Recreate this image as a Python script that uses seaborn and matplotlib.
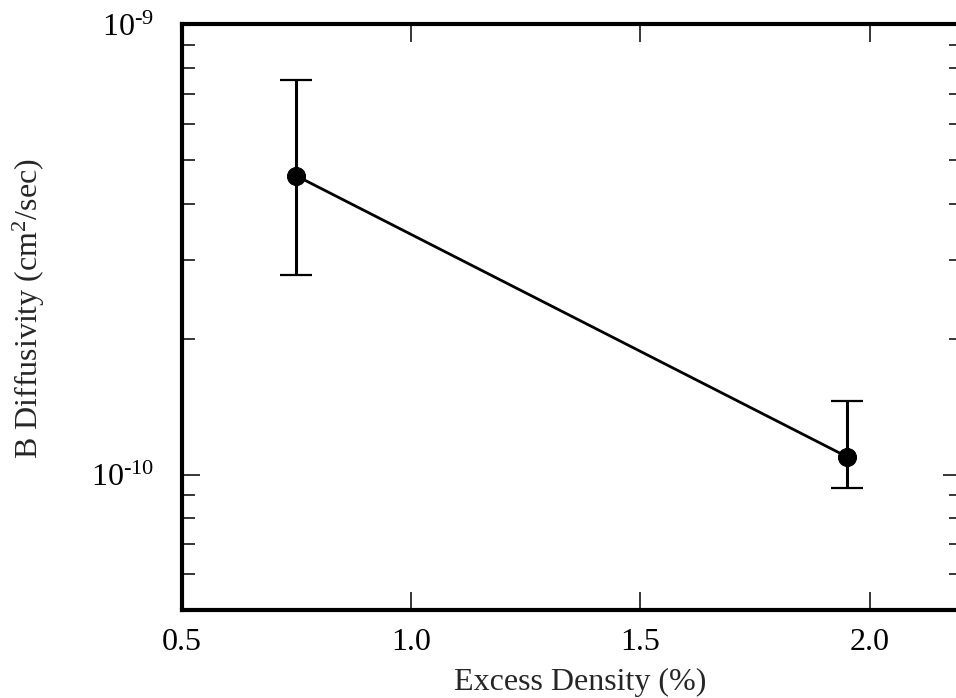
import matplotlib
matplotlib.use("Agg")
import matplotlib.pyplot as plt
import matplotlib.ticker as mticker
import numpy as np
import pandas as pd
import seaborn as sns

# Data
excess_density = [0.75, 1.95]
diffusivity = [4.61e-10, 1.096e-10]
err_low = [2.78e-10, 9.31e-11]
err_high = [7.53e-10, 1.458e-10]

x_ticks = [0.5, 1.0, 1.5, 2.0]
x_tick_labels = ["0.5", "1.0", "1.5", "2.0"]

sns.set_theme(style="ticks")
plt.rcParams["font.family"] = ["Liberation Serif", "DejaVu Serif"]
plt.rcParams["mathtext.fontset"] = "custom"
plt.rcParams["mathtext.rm"] = "Liberation Serif"
plt.rcParams["mathtext.it"] = "Liberation Serif:italic"

df = pd.DataFrame({"x": excess_density, "y": diffusivity})

fig = plt.figure(figsize=(9.56, 6.98), dpi=100)
ax = fig.add_axes([0.190, 0.1261, 0.8156, 0.8388])

yerr = np.array([np.array(diffusivity) - np.array(err_low),
                 np.array(err_high) - np.array(diffusivity)])
ax.errorbar(excess_density, diffusivity, yerr=yerr, fmt="none", ecolor="black",
            elinewidth=2.2, capsize=11.5, capthick=1.6, zorder=2)
sns.lineplot(data=df, x="x", y="y", ax=ax, color="black", linewidth=2.0,
             marker="o", markersize=13, markeredgecolor="black",
             markerfacecolor="black", zorder=3)

ax.set_yscale("log")
ax.set_xlim(0.5, 2.2)
ax.set_ylim(5e-11, 1e-9)

HYPHEN = "\u2010"


def log_label(v, p):
    e = int(round(np.log10(v)))
    return "$\\mathregular{10^{" + HYPHEN + str(abs(e)) + "}}$"


ax.set_xticks(x_ticks)
ax.set_xticklabels(x_tick_labels)
ax.set_yticks([1e-10, 1e-9])
ax.yaxis.set_major_formatter(mticker.FuncFormatter(log_label))
ax.yaxis.set_minor_locator(mticker.LogLocator(base=10, subs=np.arange(2, 10)))
ax.yaxis.set_minor_formatter(mticker.NullFormatter())

for s in ax.spines.values():
    s.set_linewidth(3.0)
    s.set_color("black")

ax.tick_params(axis="both", which="major", direction="in", length=13, width=1.1,
               top=True, right=True, labelsize=23, colors="black")
ax.tick_params(axis="y", which="major", pad=20)
ax.tick_params(axis="x", which="major", pad=13)
ax.tick_params(axis="y", which="minor", direction="in", length=9, width=1.1,
               left=True, right=True, colors="black")
ax.tick_params(axis="x", which="minor", bottom=False, top=False)

ax.set_xlabel("Excess Density (%)", fontsize=23)
ax.xaxis.set_label_coords(0.511, -0.099, transform=ax.transAxes)
ax.xaxis.label.set_verticalalignment("top")
ax.set_ylabel(r"B Diffusivity (cm$^{\mathregular{2}}$/sec)", fontsize=23)
ax.yaxis.set_label_coords(-0.173, 0.515, transform=ax.transAxes)

fig.savefig("out.png", dpi=100)
